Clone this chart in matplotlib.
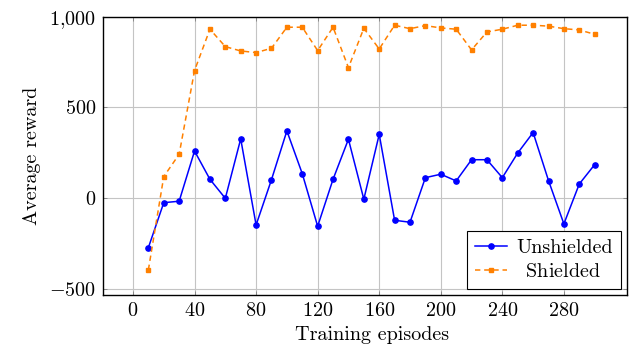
import matplotlib
matplotlib.use('Agg')
import matplotlib.pyplot as plt
from matplotlib.ticker import FixedLocator, FuncFormatter

plt.rcParams['font.family'] = 'serif'
plt.rcParams['font.serif'] = ['cmr10', 'DejaVu Serif']
plt.rcParams['mathtext.fontset'] = 'cm'
plt.rcParams['axes.unicode_minus'] = False

episodes = [10, 20, 30, 40, 50, 60, 70, 80, 90, 100, 110, 120, 130, 140, 150,
            160, 170, 180, 190, 200, 210, 220, 230, 240, 250, 260, 270, 280, 290, 300]
unshielded = [-274, -26, -18, 259, 103, -2, 326, -149, 101, 370, 134, -156, 103, 324, -7,
              351, -123, -134, 112, 131, 94, 211, 211, 112, 248, 361, 96, -143, 77, 184]
shielded = [-397, 118, 241, 703, 931, 835, 811, 802, 826, 942, 942, 813, 942, 719, 936,
            822, 953, 934, 951, 938, 931, 817, 916, 931, 953, 953, 948, 934, 927, 903]

xticks = [0, 40, 80, 120, 160, 200, 240, 280]
yticks = [-500, 0, 500, 1000]

fs = 14.5

fig = plt.figure(figsize=(6.29, 3.51), dpi=100)
ax = fig.add_axes([0.1642, 0.1587, 0.8326, 0.7937])

ax.plot(episodes, unshielded, color='#0000ff', lw=1.1, marker='o', ms=3.8,
        label='Unshielded', zorder=3)
ax.plot(episodes, shielded, color='#ff8000', lw=1.1, ls=(0, (3.5, 2.5)), marker='s', ms=3.5,
        label=r'$\hspace{0.55}\mathrm{Shielded}$', zorder=3)

ax.set_xlim(-19.3, 321)
ax.set_ylim(-537, 1000)
ax.xaxis.set_major_locator(FixedLocator(xticks))
ax.yaxis.set_major_locator(FixedLocator(yticks))

def yfmt(v, pos):
    v = int(round(v))
    if v < 0:
        return r'$-%d$' % (-v)
    if v >= 1000:
        return r'$1{,}000$'
    return r'$%d$' % v

ax.yaxis.set_major_formatter(FuncFormatter(yfmt))
ax.xaxis.set_major_formatter(FuncFormatter(lambda v, p: r'$%d$' % int(v)))

ax.grid(True, color='#c4c4c4', lw=0.8)
ax.set_axisbelow(True)
ax.tick_params(direction='in', length=3, width=0.6, labelsize=fs, top=True, right=True,
               color='#808080', pad=5)
for s in ax.spines.values():
    s.set_linewidth(1.0)
    s.set_color('black')

ax.set_xlabel('Training episodes', fontsize=fs, labelpad=3)
ax.xaxis.set_label_coords(0.513, -0.11)
ax.set_ylabel('Average reward', fontsize=fs, labelpad=6)

leg = ax.legend(loc='lower right', fontsize=fs, fancybox=False, framealpha=1,
                edgecolor='black', handlelength=1.6, borderpad=0.4,
                labelspacing=0.3, handletextpad=0.45, borderaxespad=0.3)
leg.get_frame().set_linewidth(0.8)

fig.savefig('out.png', dpi=100)
